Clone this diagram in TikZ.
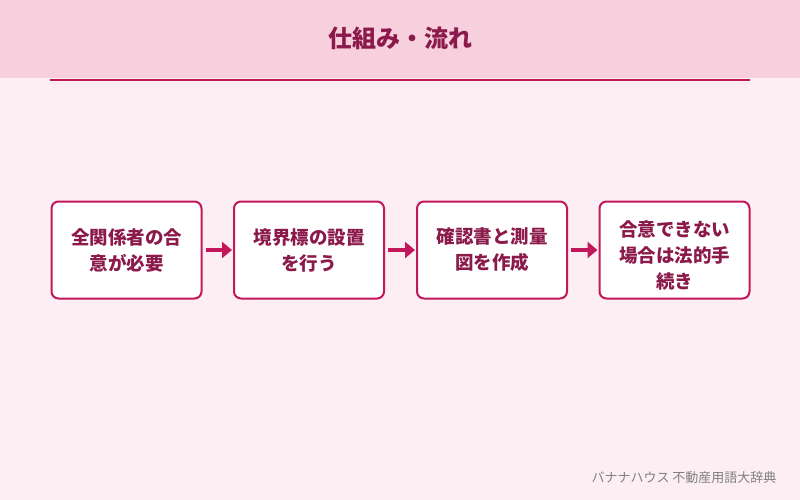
\documentclass[tikz,border=0pt]{standalone}
\usepackage{fontspec}
\newfontfamily\cjk{Noto Sans CJK JP}
\usetikzlibrary{arrows.meta,positioning}
\definecolor{accent}{HTML}{C2185B}
\definecolor{textdark}{HTML}{8B1A4A}
\definecolor{bgpink}{HTML}{FDEEF3}
\definecolor{headpink}{HTML}{F7CFDD}
\tikzset{
	stage/.style = {draw=accent, line width=2pt, fill=white, rounded corners=7pt,
		minimum width=150pt, minimum height=97pt, text width=132pt, align=center,
		font=\cjk\bfseries\fontsize{18.5}{26}\selectfont, text=textdark},
	flow/.style = {draw=accent, line width=3.5pt, shorten <=3pt, shorten >=1pt, -{Triangle[length=10pt,width=16pt]}},
}
\begin{document}
\begin{tikzpicture}[x=1pt, y=-1pt]
	\useasboundingbox (0,0) rectangle (800,500);
	\fill[bgpink] (0,0) rectangle (800,500);
	\fill[headpink] (0,0) rectangle (800,78);
	\draw[accent, line width=1.5pt] (50,80) -- (750,80);
	\node (title) at (400,38) [font=\cjk\bfseries\fontsize{24}{28}\selectfont, text=textdark] {仕組み・流れ};
	\node (agree) at (126.5,250) [stage] {全関係者の合\\意が必要};
	\node (marker) at (309,250) [stage] {境界標の設置\\を行う};
	\node (survey) at (492,250) [stage] {確認書と測量\\図を作成};
	\node (legal) at (674.5,250) [stage] {\mbox{}\\合意できない\\場合は法的手\\続き};
	\path [flow] (agree) -- (marker);
	\path [flow] (marker) -- (survey);
	\path [flow] (survey) -- (legal);
	\node (credit) at (780,478) [anchor=east, font=\cjk\fontsize{13}{15}\selectfont, text=gray] {バナナハウス 不動産用語大辞典};
\end{tikzpicture}
\end{document}
